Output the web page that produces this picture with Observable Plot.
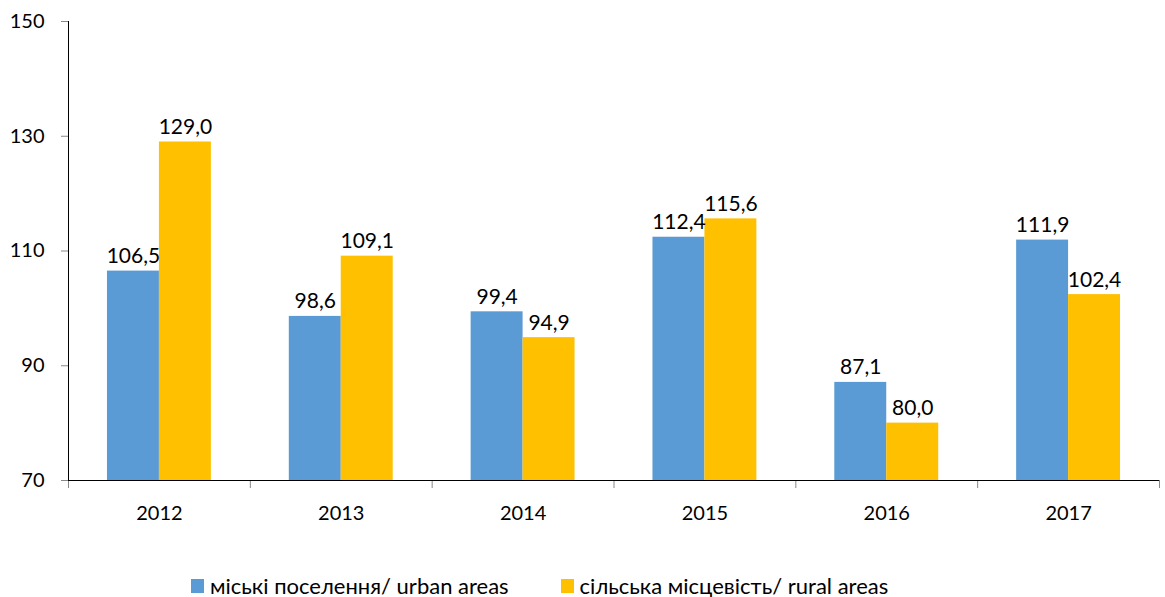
<!DOCTYPE html>
<html>
<head>
<meta charset="utf-8">
<script src="https://cdn.jsdelivr.net/npm/d3@7"></script>
<script src="https://cdn.jsdelivr.net/npm/@observablehq/plot@0.6"></script>
<style>
  html, body { margin: 0; padding: 0; background: #fff; }
  body { font-family: Lato, "Noto Sans", sans-serif; }
  #legend { display: flex; align-items: center; padding-left: 191px; margin-top: 37px; font-size: 22px; color: #000; }
  .item { display: flex; align-items: center; margin-right: 52px; }
  .sw { width: 13px; height: 14px; margin-right: 6px; }
</style>
</head>
<body>
<div id="chart"></div>
<div id="legend"></div>
<script>
const years = ["2012", "2013", "2014", "2015", "2016", "2017"];
const urban = [106.5, 98.6, 99.4, 112.4, 87.1, 111.9];
const rural = [129.0, 109.1, 94.9, 115.6, 80.0, 102.4];
const yTicks = [70, 90, 110, 130, 150];
const seriesNames = ["міські поселення/ urban areas", "сільська місцевість/ rural areas"];
const colors = ["#5B9BD5", "#FFC000"];

const W = 1165, H = 535, ml = 68, mr = 6, mt = 21, mb = 55;
const bw = (W - ml - mr) / years.length;
const pad = bw * 3 / 14, barW = bw * 2 / 7;
const yMin = yTicks[0];

const rows = years.map((y, i) => ({year: y, urban: urban[i], rural: rural[i]}));
const fmt = v => v.toFixed(1).replace(".", ",");

const chart = Plot.plot({
  width: W, height: H,
  marginLeft: ml, marginRight: mr, marginTop: mt, marginBottom: mb,
  style: {fontFamily: "Lato, 'Noto Sans', sans-serif", fontSize: "20px", color: "#000", background: "#fff"},
  x: {type: "band", domain: years, padding: 0, round: false, label: null},
  y: {domain: [yTicks[0], yTicks[yTicks.length - 1]], label: null},
  marks: [
    Plot.barY(rows, {x: "year", y1: yMin, y2: "urban", fill: colors[0], insetLeft: pad, insetRight: bw - pad - barW}),
    Plot.barY(rows, {x: "year", y1: yMin, y2: "rural", fill: colors[1], insetLeft: pad + barW, insetRight: pad}),
    Plot.text(rows, {x: "year", y: "urban", text: d => fmt(d.urban), dx: -barW / 2, dy: -8, lineAnchor: "bottom", fontSize: 21}),
    Plot.text(rows, {x: "year", y: "rural", text: d => fmt(d.rural), dx: barW / 2, dy: -8, lineAnchor: "bottom", fontSize: 21}),
    Plot.ruleX(years, {x: d => d, dx: -bw / 2, y1: yMin, y2: yMin, insetBottom: -8, stroke: "#888"}),
    Plot.ruleX(years.slice(-1), {x: d => d, dx: bw / 2, y1: yMin, y2: yMin, insetBottom: -8, stroke: "#888"}),
    Plot.ruleX(years.slice(0, 1), {x: d => d, dx: -bw / 2, stroke: "#000"}),
    Plot.ruleY([yMin], {stroke: "#000"}),
    Plot.axisY({ticks: yTicks, tickSize: 7, tickPadding: 17, stroke: "#888", fill: "#000", fontSize: 20}),
    Plot.axisX({tickSize: 0, tickPadding: 25, fill: "#000", fontSize: 20})
  ]
});
document.getElementById("chart").appendChild(chart);

const legend = document.getElementById("legend");
seriesNames.forEach((name, i) => {
  const it = document.createElement("div");
  it.className = "item";
  const sw = document.createElement("div");
  sw.className = "sw";
  sw.style.background = colors[i];
  const tx = document.createElement("span");
  tx.textContent = name;
  it.appendChild(sw);
  it.appendChild(tx);
  legend.appendChild(it);
});
</script>
</body>
</html>
